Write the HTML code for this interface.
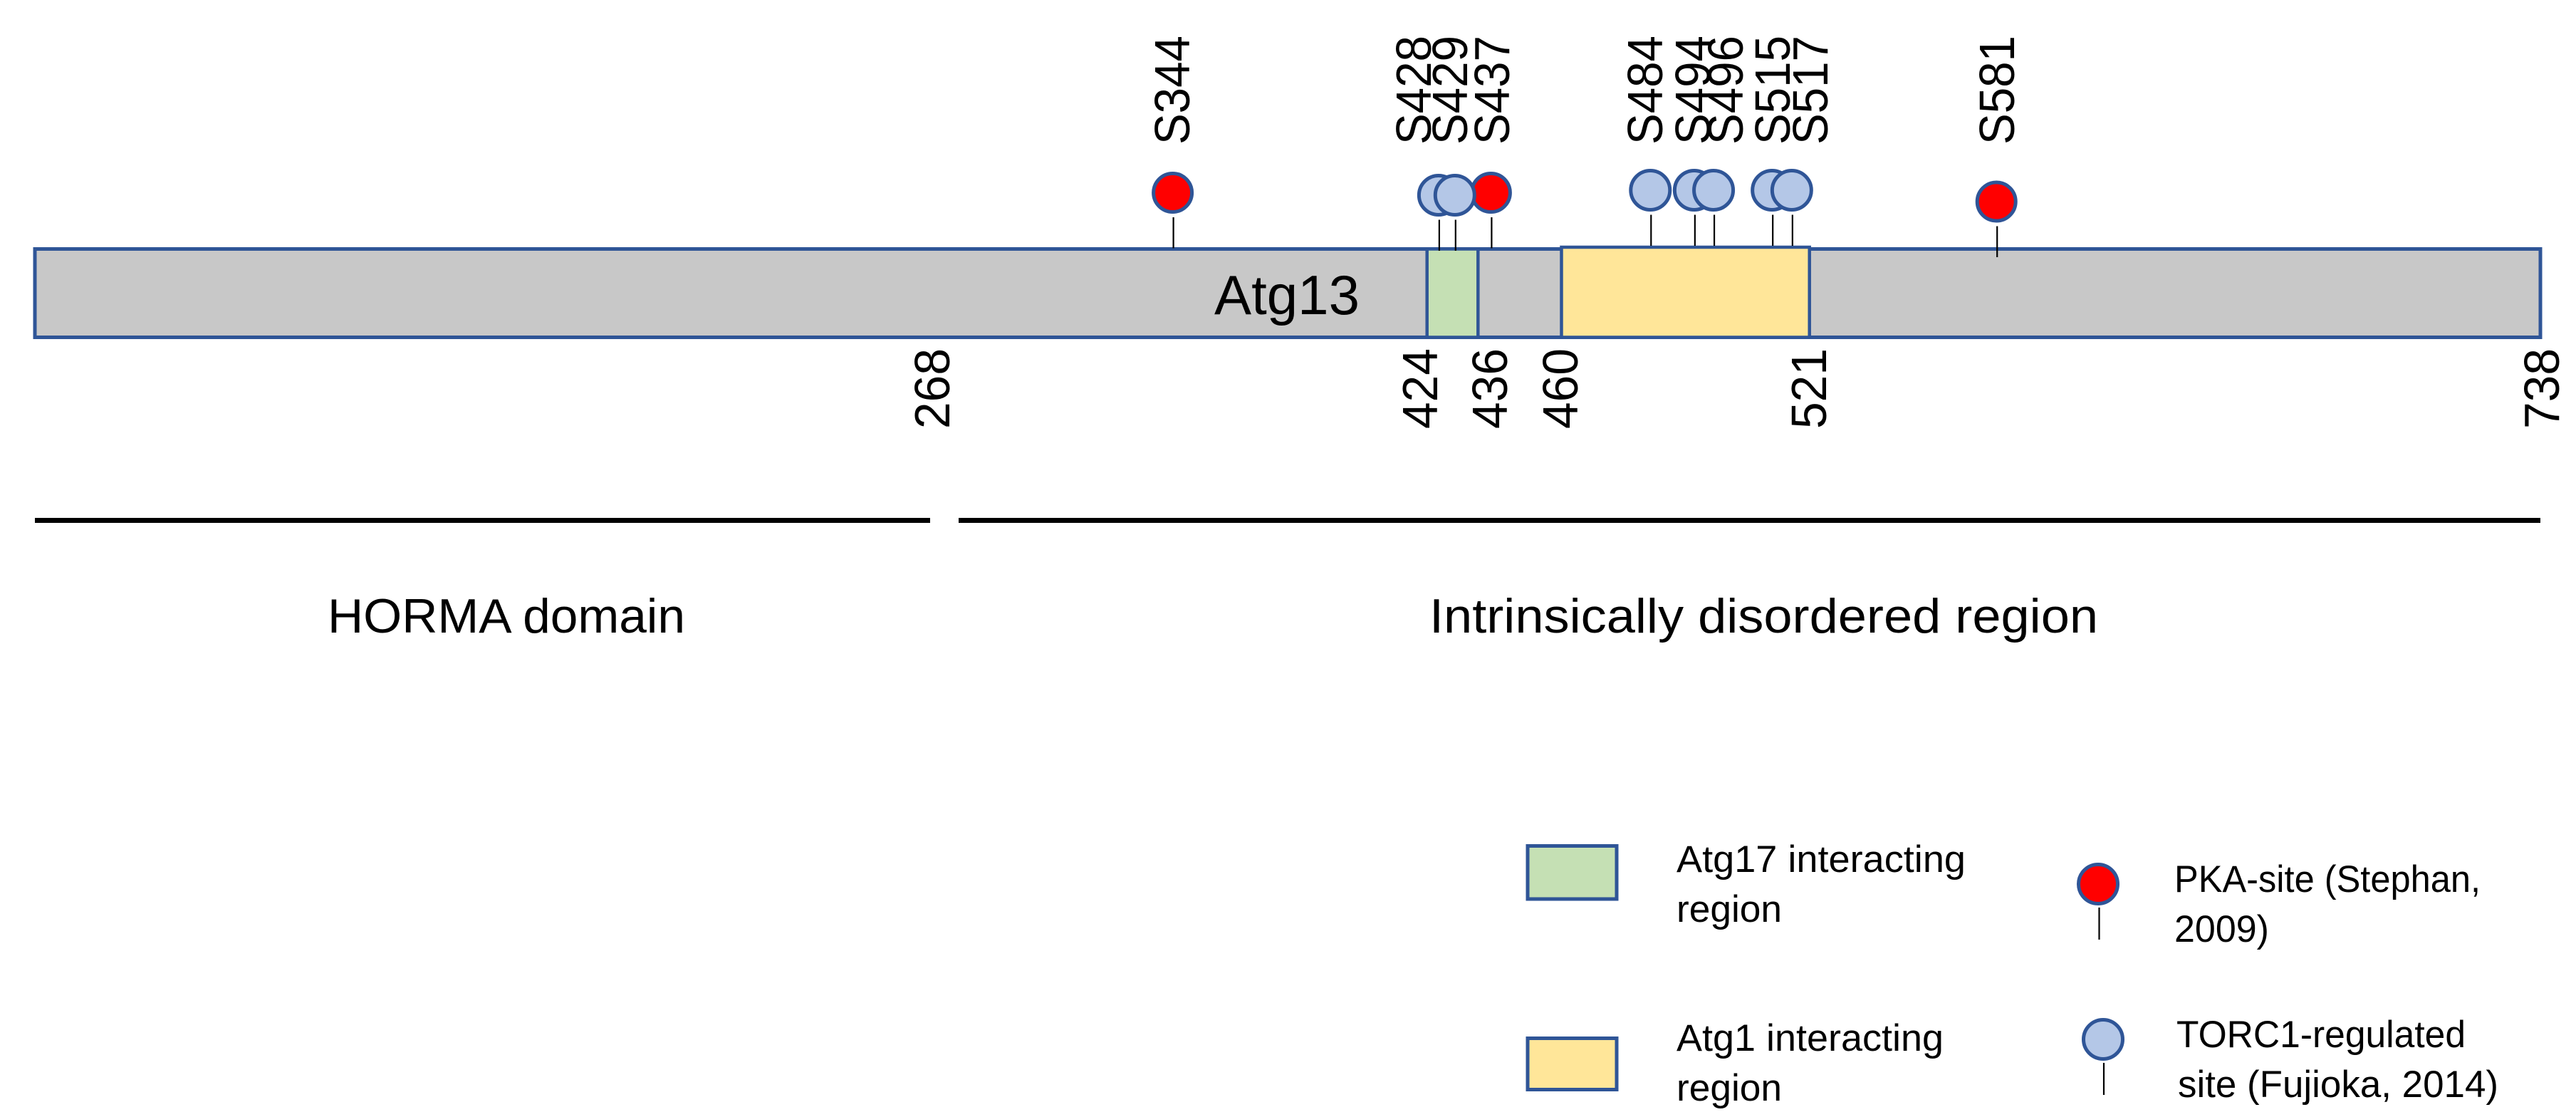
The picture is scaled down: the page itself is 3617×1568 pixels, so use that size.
<!DOCTYPE html>
<html lang="en">
<head>
<meta charset="utf-8">
<title>Atg13 domain map</title>
<style>
  html, body { margin: 0; padding: 0; background: #ffffff; }
  svg { display: block; }
  text { font-family: "Liberation Sans", sans-serif; fill: #000000; }
</style>
</head>
<body>
<svg id="chart" xmlns="http://www.w3.org/2000/svg" width="3617" height="1568" viewBox="0 0 3617 1568">
  <rect x="0" y="0" width="3617" height="1568" fill="#ffffff"/>
  <g id="bar-layer"></g>
  <text x="1705" y="441" font-size="78" textLength="204" lengthAdjust="spacingAndGlyphs">Atg13</text>
  <g id="tick-layer"></g>
  <g id="site-layer"></g>

  <rect x="49" y="727" width="1257" height="7" fill="#000000"/>
  <rect x="1346" y="727" width="2221" height="7" fill="#000000"/>
  <text x="460" y="888" font-size="68" textLength="502" lengthAdjust="spacingAndGlyphs">HORMA domain</text>
  <text x="2007" y="888" font-size="68" textLength="939" lengthAdjust="spacingAndGlyphs">Intrinsically disordered region</text>

  <g>
    <rect x="2145" y="1187.5" width="125" height="74.5" fill="#C5E0B4" stroke="#2F5597" stroke-width="5"/>
    <text x="2354" y="1224" font-size="53" textLength="406" lengthAdjust="spacingAndGlyphs">Atg17 interacting</text>
    <text x="2354" y="1294" font-size="53" textLength="148" lengthAdjust="spacingAndGlyphs">region</text>

    <rect x="2145" y="1457.5" width="125" height="72" fill="#FFE699" stroke="#2F5597" stroke-width="5"/>
    <text x="2354" y="1475" font-size="53" textLength="375" lengthAdjust="spacingAndGlyphs">Atg1 interacting</text>
    <text x="2354" y="1545" font-size="53" textLength="148" lengthAdjust="spacingAndGlyphs">region</text>

    <line x1="2947.5" y1="1274" x2="2947.5" y2="1319" stroke="#000000" stroke-width="2.2"/>
    <circle cx="2946" cy="1241" r="27.5" fill="#FF0000" stroke="#2F5597" stroke-width="5"/>
    <text x="3053" y="1252" font-size="53" textLength="430" lengthAdjust="spacingAndGlyphs">PKA-site (Stephan,</text>
    <text x="3053" y="1322" font-size="53" textLength="133" lengthAdjust="spacingAndGlyphs">2009)</text>

    <line x1="2954" y1="1492" x2="2954" y2="1537" stroke="#000000" stroke-width="2.2"/>
    <circle cx="2953" cy="1459" r="27.5" fill="#B4C7E7" stroke="#2F5597" stroke-width="5"/>
    <text x="3056" y="1470" font-size="53" textLength="406" lengthAdjust="spacingAndGlyphs">TORC1-regulated</text>
    <text x="3058" y="1540" font-size="53" textLength="450" lengthAdjust="spacingAndGlyphs">site (Fujioka, 2014)</text>
  </g>
</svg>

<script>
// The figure is not drawn to scale: its printed residue numbers do not sit
// linearly along the bar. Each "drawn position" array holds where the mark
// was read off the picture, expressed on the bar's linear 1-738 axis.
const axisDomain = [1, 738];

const siteLabels = ['S344', 'S428', 'S429', 'S437', 'S484', 'S494', 'S496', 'S515', 'S517', 'S581'];
const siteDrawnPositions = [335.9, 414.1, 418.9, 429.5, 476.4, 489.3, 495.0, 512.2, 518.0, 578.2];
const siteLabelDrawnPositions = [335.6, 406.6, 417.3, 429.6, 474.7, 488.7, 498.3, 512.2, 523.3, 578.2];
const siteKinds = ['pka', 'torc1', 'torc1', 'pka', 'torc1', 'torc1', 'torc1', 'torc1', 'torc1', 'pka'];

const tickLabels = ['268', '424', '436', '460', '521', '738'];
const tickDrawnPositions = [264.5, 408.0, 428.6, 449.3, 522.4, 738];

const regionNames = ['atg17-interacting-region', 'atg1-interacting-region'];
const regionStarts = [410.5, 450.05];
const regionEnds = [425.5, 523];

// Drawing configuration (not data)
const SVG_NS = 'http://www.w3.org/2000/svg';
const BAR_LEFT = 49, BAR_RIGHT = 3567, BAR_TOP = 349.5, BAR_BOTTOM = 473.5;
const BORDER = '#2F5597';
const kindFill = { pka: '#FF0000', torc1: '#B4C7E7' };
const kindRadius = { pka: 27, torc1: 27.5 };
const regionFill = ['#C5E0B4', '#FFE699'];
const regionTop = [BAR_TOP, 347];
const headRow = [270.5, 274, 274, 270.5, 267, 267, 267, 267, 267, 283];

function xScale(pos) {
  return BAR_LEFT + (pos - axisDomain[0]) / (axisDomain[1] - axisDomain[0]) * (BAR_RIGHT - BAR_LEFT);
}

function make(tag, attrs, parent) {
  const el = document.createElementNS(SVG_NS, tag);
  Object.keys(attrs).forEach(function (k) { el.setAttribute(k, attrs[k]); });
  parent.appendChild(el);
  return el;
}

const barLayer = document.getElementById('bar-layer');
const tickLayer = document.getElementById('tick-layer');
const siteLayer = document.getElementById('site-layer');

// Protein bar
const barBody = make('rect', {
  x: xScale(axisDomain[0]), y: BAR_TOP,
  width: xScale(axisDomain[1]) - xScale(axisDomain[0]), height: BAR_BOTTOM - BAR_TOP,
  fill: '#C8C8C8', stroke: BORDER, 'stroke-width': 5
}, barLayer);



// Interacting regions
regionNames.forEach(function (name, i) {
  const x0 = xScale(regionStarts[i]);
  const x1 = xScale(regionEnds[i]);
  const region = make('rect', {
    x: x0, y: regionTop[i], width: x1 - x0, height: BAR_BOTTOM - regionTop[i],
    fill: regionFill[i], stroke: BORDER, 'stroke-width': 4.5
  }, barLayer);
  
  
});

// Residue tick labels (rotated, reading upward)
tickLabels.forEach(function (label, i) {
  const baseline = xScale(tickDrawnPositions[i]) + 26;
  const t = make('text', {
    x: baseline, y: 602, 'font-size': 70,
    textLength: 113, lengthAdjust: 'spacingAndGlyphs',
    transform: 'rotate(-90 ' + baseline + ' 602)'
  }, tickLayer);
  t.textContent = label;
  
  
});

// Phosphosites: PKA heads first, TORC1 heads on top, in array order
const siteOrder = siteLabels.map(function (_, i) { return i; }).sort(function (a, b) {
  const ra = siteKinds[a] === 'pka' ? 0 : 1;
  const rb = siteKinds[b] === 'pka' ? 0 : 1;
  return ra - rb || a - b;
});

siteOrder.forEach(function (i) {
  const x = xScale(siteDrawnPositions[i]);
  const headY = headRow[i];
  const kind = siteKinds[i];
  const label = siteLabels[i];

  const stem = make('line', {
    x1: x, x2: x, y1: headY + 34.5, y2: headY + 78,
    stroke: '#000000', 'stroke-width': 2.2
  }, siteLayer);
  
  

  const head = make('circle', {
    cx: x - 1, cy: headY, r: kindRadius[kind],
    fill: kindFill[kind], stroke: BORDER, 'stroke-width': 5
  }, siteLayer);
  
  
});

siteLabels.forEach(function (label, i) {
  const baseline = xScale(siteLabelDrawnPositions[i]) + 24;
  const text = make('text', {
    x: baseline, y: 203, 'font-size': 70,
    textLength: 153, lengthAdjust: 'spacingAndGlyphs',
    transform: 'rotate(-90 ' + baseline + ' 203)'
  }, siteLayer);
  text.textContent = label;
  
  
});
</script>
</body>
</html>
